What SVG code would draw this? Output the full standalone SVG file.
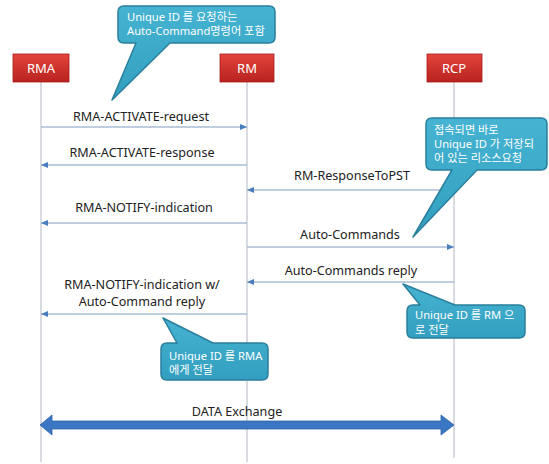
<svg xmlns="http://www.w3.org/2000/svg" width="549" height="464" viewBox="0 0 549 464">
<defs>
<linearGradient id="red" x1="0" y1="0" x2="0" y2="1">
<stop offset="0" stop-color="#e2453b"/>
<stop offset="1" stop-color="#b8221f"/>
</linearGradient>
<linearGradient id="teal" x1="0" y1="0" x2="0" y2="1">
<stop offset="0" stop-color="#45b3d1"/>
<stop offset="1" stop-color="#339fc0"/>
</linearGradient>
<marker id="ah" viewBox="0 0 8 8" refX="8" refY="4" markerWidth="7" markerHeight="7" markerUnits="userSpaceOnUse" orient="auto">
<path d="M0,0.5 L8,4 L0,7.5 Z" fill="#4a7fbf"/>
</marker>
</defs>
<style>
.life{stroke:#c4c8d0;stroke-width:1.3;fill:none}
.box{fill:url(#red);stroke:#a81c1c;stroke-width:0.8}
.boxt{font-family:"Noto Sans","Noto Sans CJK KR",sans-serif;font-size:13px;fill:#ffffff;text-anchor:middle}
.msg{stroke:#a9bcd6;stroke-width:1.4;fill:none;marker-end:url(#ah)}
.lbl{font-family:"Noto Sans","Noto Sans CJK KR",sans-serif;font-size:12.6px;fill:#222222;text-anchor:middle}
.call{fill:url(#teal);stroke:#2a7f9c;stroke-width:1.5;stroke-linejoin:round}
.ct{font-family:"Noto Sans","Noto Sans CJK KR",sans-serif;font-size:11.2px;fill:#ffffff}
</style>
<rect width="549" height="464" fill="#ffffff"/>

<g id="lifelines">
<line class="life" x1="41" y1="82" x2="41" y2="462"/>
<line class="life" x1="247" y1="82" x2="247" y2="462"/>
<line class="life" x1="454" y1="82" x2="454" y2="458"/>
</g>

<g id="node-RMA">
<rect class="box" x="13" y="54" width="56" height="28"/>
<text class="boxt" x="41" y="73">RMA</text>
</g>
<g id="node-RM">
<rect class="box" x="220" y="54" width="54" height="28"/>
<text class="boxt" x="247" y="73">RM</text>
</g>
<g id="node-RCP">
<rect class="box" x="427" y="54" width="55" height="28"/>
<text class="boxt" x="454" y="73">RCP</text>
</g>

<g id="connectors">
<line class="msg" x1="41" y1="127" x2="247" y2="127"/>
<line class="msg" x1="247" y1="165" x2="41" y2="165"/>
<line class="msg" x1="454" y1="190" x2="247" y2="190"/>
<line class="msg" x1="247" y1="223" x2="41" y2="223"/>
<line class="msg" x1="247" y1="247" x2="454" y2="247"/>
<line class="msg" x1="454" y1="282" x2="247" y2="282"/>
<line class="msg" x1="247" y1="314" x2="41" y2="314"/>
<g id="data-exchange">
<path d="M40,425 L52,415 L52,421 L441,421 L441,415 L454,425 L441,435 L441,429 L52,429 L52,435 Z" fill="#3a76c2" stroke="#2e64a8" stroke-width="0.8"/>
</g>
</g>

<g id="labels">
<text class="lbl" x="141" y="121">RMA-ACTIVATE-request</text>
<text class="lbl" x="142" y="157">RMA-ACTIVATE-response</text>
<text class="lbl" x="352" y="180">RM-ResponseToPST</text>
<text class="lbl" x="144" y="212">RMA-NOTIFY-indication</text>
<text class="lbl" x="350" y="239">Auto-Commands</text>
<text class="lbl" x="351" y="275">Auto-Commands reply</text>
<text class="lbl" x="142" y="289">RMA-NOTIFY-indication w/</text>
<text class="lbl" x="142" y="306">Auto-Command reply</text>
<text class="lbl" x="237" y="416">DATA Exchange</text>
</g>

<g id="callout-top">
<path class="call" d="M124,6 H269 Q275,6 275,12 V37 Q275,43 269,43 H170 L112,100 L136,43 H124 Q118,43 118,37 V12 Q118,6 124,6 Z"/>
<text class="ct" x="127" y="21">Unique ID 를 요청하는</text>
<text class="ct" x="127" y="35">Auto-Command명령어 포함</text>
</g>

<g id="callout-right">
<path class="call" d="M432,118 H541 Q547,118 547,124 V164 Q547,170 541,170 H477 L413,237 L452,170 H432 Q426,170 426,164 V124 Q426,118 432,118 Z"/>
<text class="ct" x="434" y="134">접속되면 바로</text>
<text class="ct" x="434" y="148">Unique ID 가 저장되</text>
<text class="ct" x="434" y="162">어 있는 리소스요청</text>
</g>

<g id="callout-rm">
<path class="call" d="M413,305 H420 L403,284 L455,305 H519 Q525,305 525,311 V332 Q525,338 519,338 H413 Q407,338 407,332 V311 Q407,305 413,305 Z"/>
<text class="ct" x="415" y="319">Unique ID 를 RM 으</text>
<text class="ct" x="415" y="334">로 전달</text>
</g>

<g id="callout-rma">
<path class="call" d="M167,343 H177 L163,318 L213,343 H262 Q268,343 268,349 V374 Q268,380 262,380 H167 Q161,380 161,374 V349 Q161,343 167,343 Z"/>
<text class="ct" x="169" y="360">Unique ID 를 RMA</text>
<text class="ct" x="169" y="374">에게 전달</text>
</g>
</svg>
